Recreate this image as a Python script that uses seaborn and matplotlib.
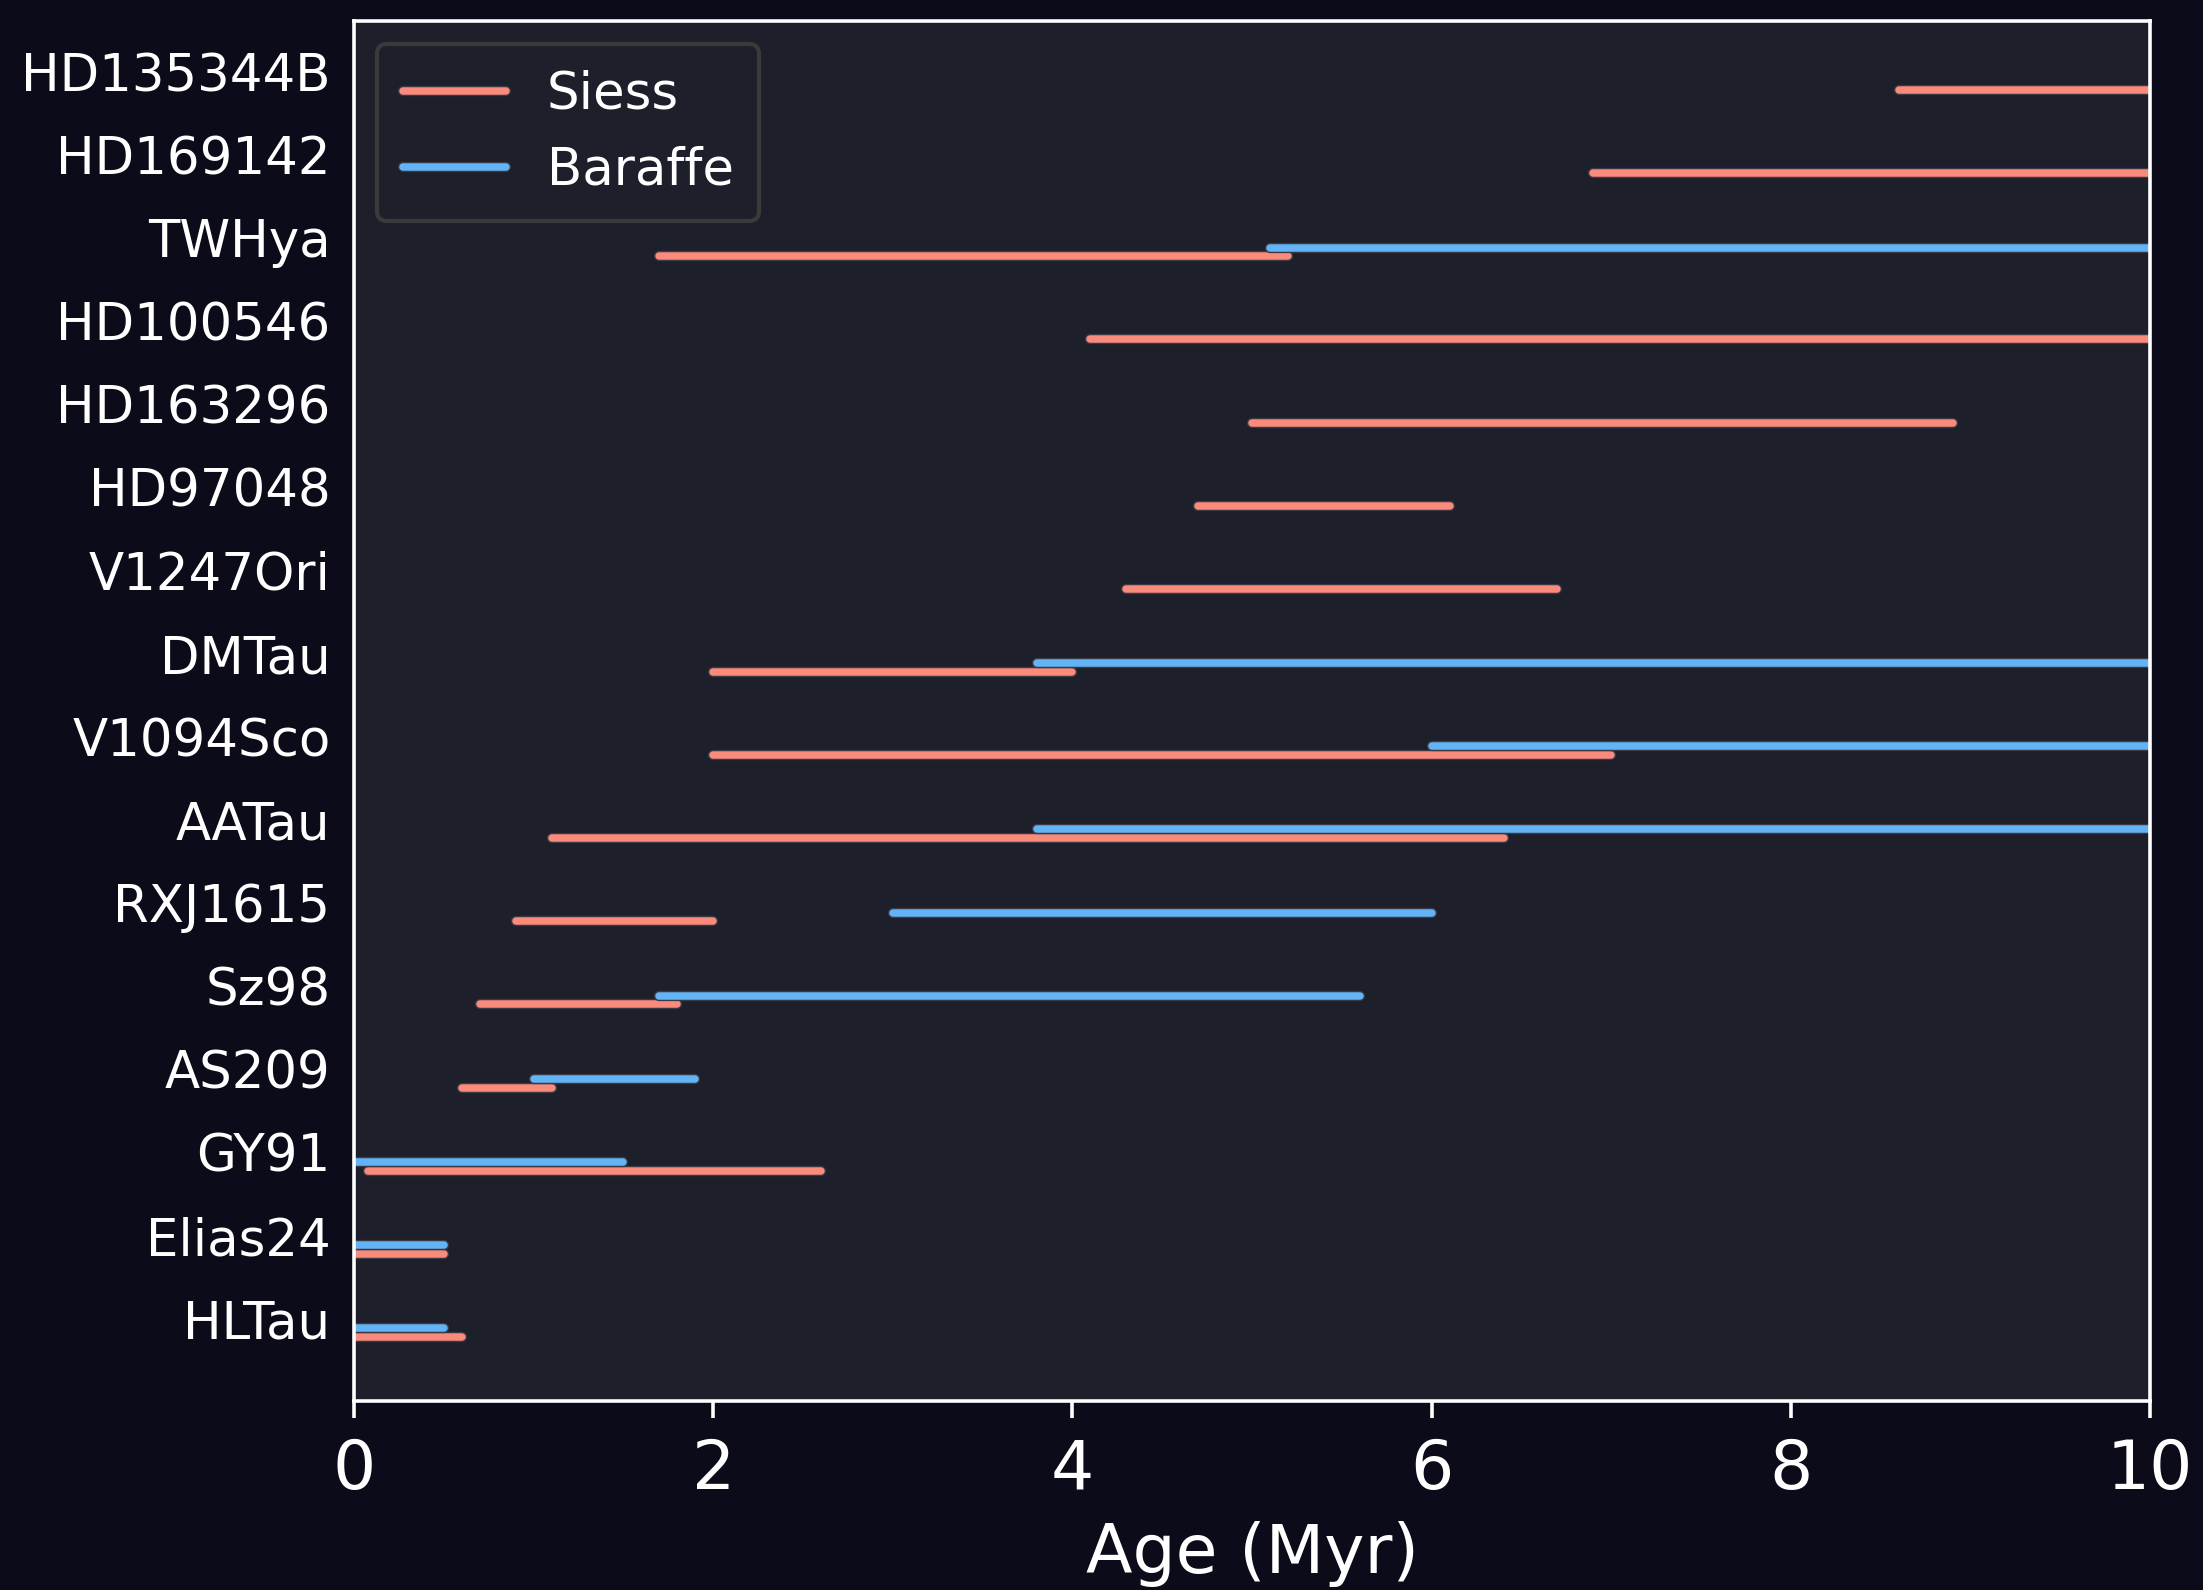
import matplotlib
matplotlib.use("Agg")
import matplotlib.pyplot as plt
import matplotlib.patheffects as pe
from matplotlib.lines import Line2D
import numpy as np
import pandas as pd
import seaborn as sns

# Discs, bottom row first
stars = ["HLTau", "Elias24", "GY91", "AS209", "Sz98", "RXJ1615", "AATau",
         "V1094Sco", "DMTau", "V1247Ori", "HD97048", "HD163296", "HD100546",
         "TWHya", "HD169142", "HD135344B"]

# Age ranges (Myr) from the Siess tracks
siess_lo = [0.0, 0.0, 0.08, 0.6, 0.7, 0.9, 1.1, 2.0, 2.0, 4.3, 4.7, 5.0, 4.1, 1.7, 6.9, 8.6]
siess_hi = [0.6, 0.5, 2.6, 1.1, 1.8, 2.0, 6.4, 7.0, 4.0, 6.7, 6.1, 8.9, 10.0, 5.2, 10.0, 10.0]

# Age ranges (Myr) from the Baraffe tracks (None where not available)
baraffe_lo = [0.0, 0.0, 0.0, 1.0, 1.7, 3.0, 3.8, 6.0, 3.8, None, None, None, None, 5.1, None, None]
baraffe_hi = [0.5, 0.5, 1.5, 1.9, 5.6, 6.0, 10.0, 10.0, 10.0, None, None, None, None, 10.0, None, None]

models = ["Siess", "Baraffe"]
colors = {"Siess": "#f98a7c", "Baraffe": "#63b4f6"}
row_shift = {"Siess": -0.22, "Baraffe": -0.115}

rows = []
for i, name in enumerate(stars):
    for model, lo_arr, hi_arr in (("Siess", siess_lo, siess_hi),
                                   ("Baraffe", baraffe_lo, baraffe_hi)):
        lo, hi = lo_arr[i], hi_arr[i]
        if lo is None:
            continue
        seg = f"{name}-{model}"
        y = i + row_shift[model]
        rows.append({"age": lo, "ypos": y, "model": model, "seg": seg})
        rows.append({"age": hi, "ypos": y, "model": model, "seg": seg})
df = pd.DataFrame(rows)

fig_bg = "#0b0b1a"
ax_bg = "#1d1f2b"
sns.set_theme(style="dark", rc={
    "figure.facecolor": fig_bg,
    "axes.facecolor": ax_bg,
    "axes.edgecolor": "white",
    "axes.linewidth": 2.6,
    "text.color": "white",
    "axes.labelcolor": "white",
    "xtick.color": "white",
    "ytick.color": "white",
    "axes.grid": False,
})
plt.rcParams["font.family"] = ["DejaVu Sans"]

fig = plt.figure(figsize=(22.03, 15.90), dpi=100)
ax = fig.add_axes([0.1607, 0.1189, 0.976 - 0.1607, 0.9868 - 0.1189])

lw = 5.4
sns.lineplot(data=df, x="age", y="ypos", hue="model", units="seg",
             estimator=None, sort=False, palette=colors, hue_order=models,
             linewidth=lw, legend=False, ax=ax, solid_capstyle="round")

outline = [pe.Stroke(linewidth=lw + 2.0, foreground="#3a3a44"), pe.Normal()]
for ln in ax.lines:
    ln.set_path_effects(outline)

ax.set_xlim(0, 10)
ax.set_ylim(-0.99, 15.61)
ax.set_yticks(np.arange(len(stars)))
ax.set_yticklabels(stars)
ax.set_xticks([0, 2, 4, 6, 8, 10])
ax.tick_params(axis="y", length=0, pad=17, labelsize=37)
ax.tick_params(axis="x", length=12, width=2.6, pad=14, labelsize=49,
               bottom=True, direction="out")
ax.set_xlabel("Age (Myr)", fontsize=49, labelpad=13)
ax.set_ylabel("")
for sp in ax.spines.values():
    sp.set_visible(True)
    sp.set_color("white")
    sp.set_linewidth(2.6)

handles = [Line2D([0], [0], color=colors[m], linewidth=lw, solid_capstyle="round",
                  path_effects=outline) for m in models]
leg = ax.legend(handles, models, loc="upper left", fontsize=37, frameon=True,
                fancybox=True, borderpad=0.5, handlelength=2.0,
                bbox_to_anchor=(0.0, 1.0), borderaxespad=0.45)
leg.get_frame().set_facecolor(ax_bg)
leg.get_frame().set_edgecolor("#3a3a3a")
leg.get_frame().set_linewidth(3.0)
leg.get_frame().set_alpha(1.0)
for t in leg.get_texts():
    t.set_color("white")

fig.savefig("out.png", dpi=100, facecolor=fig_bg)
